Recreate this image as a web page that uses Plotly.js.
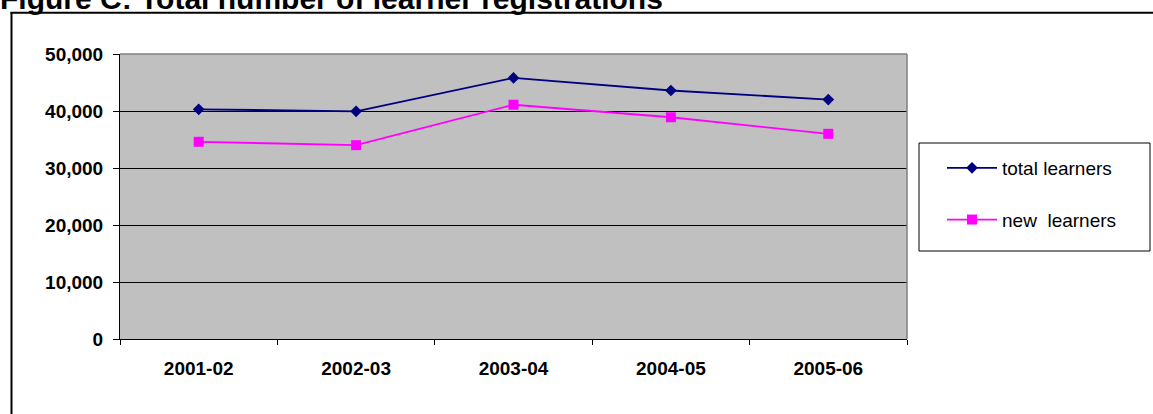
<!DOCTYPE html>
<html>
<head>
<meta charset="utf-8">
<script src="https://cdn.plot.ly/plotly-3.0.1.min.js"></script>
<style>html,body{margin:0;padding:0;background:#fff;}#chart{width:1153px;height:414px;}</style>
</head>
<body>
<div id="chart"></div>
<script>
const years = ["2001-02", "2002-03", "2003-04", "2004-05", "2005-06"];
const totalLearners = [40300, 39950, 45800, 43600, 42000];
const newLearners = [34600, 34000, 41100, 38900, 36000];
const yTicks = [0, 10000, 20000, 30000, 40000, 50000];
const yTickText = ["0", "10,000", "20,000", "30,000", "40,000", "50,000"];
const titleText = "Figure C: Total number of learner registrations";

const W = 1153, H = 414;
const L = 120, R = 246, T = 54, B = 75;
const pw = W - L - R, ph = H - T - B;
const px = v => (v - L) / pw;       // pixel x -> paper
const py = v => (H - B - v) / ph;   // pixel y -> paper

const FONT = "Liberation Sans, Arial, sans-serif";

const traces = [
  {x: years, y: totalLearners, name: "total learners", type: "scatter", mode: "lines+markers",
   line: {color: "#000080", width: 1.8}, marker: {symbol: "diamond", size: 9, color: "#000080"},
   legendgroup: "a"},
  {x: years, y: newLearners, name: "new  learners", type: "scatter", mode: "lines+markers",
   line: {color: "#FF00FF", width: 1.8}, marker: {symbol: "square", size: 10, color: "#FF00FF"},
   legendgroup: "b"}
];

const layout = {
  width: W, height: H,
  margin: {l: L, r: R, t: T, b: B, pad: 0},
  paper_bgcolor: "#ffffff",
  plot_bgcolor: "#c0c0c0",
  font: {family: FONT, color: "#000"},
  showlegend: true,
  legend: {x: px(942), y: py(149), xanchor: "left", yanchor: "top",
    bgcolor: "rgba(0,0,0,0)", borderwidth: 0,
    font: {family: FONT, size: 19, color: "#000"},
    itemwidth: 50, traceorder: "grouped", tracegroupgap: 24},
  xaxis: {type: "category", range: [-0.5, 4.5], showgrid: false, zeroline: false,
    showline: true, linecolor: "#000", linewidth: 1,
    ticks: "outside", ticklen: 5, tickcolor: "#000", tickson: "boundaries",
    tickfont: {family: FONT, size: 19, color: "#000", weight: "bold"},
    ticklabelstandoff: 12, fixedrange: true},
  yaxis: {range: [0, 50000], tickvals: yTicks, ticktext: yTickText,
    showgrid: true, gridcolor: "#000", gridwidth: 1, zeroline: false,
    showline: true, linecolor: "#000", linewidth: 1,
    ticks: "outside", ticklen: 6, tickcolor: "#000",
    tickfont: {family: FONT, size: 19, color: "#000", weight: "bold"},
    ticklabelstandoff: 6, fixedrange: true},
  annotations: [
    {text: "<b>" + titleText + "</b>", xref: "paper", yref: "paper",
     x: px(-1), y: py(-1.2), xanchor: "left", yanchor: "middle", showarrow: false,
     borderpad: 0, font: {family: FONT, size: 30, color: "#000"}}
  ],
  shapes: [
    {type: "line", xref: "paper", yref: "paper", x0: 0, x1: 1, y0: 1, y1: 1, line: {color: "#808080", width: 1.5}, layer: "above"},
    {type: "line", xref: "paper", yref: "paper", x0: 1, x1: 1, y0: 0, y1: 1, line: {color: "#808080", width: 1.5}, layer: "above"},
    {type: "line", xref: "paper", yref: "paper", x0: px(10.5), x1: px(1170), y0: py(12.8), y1: py(12.8), line: {color: "#000", width: 2}},
    {type: "line", xref: "paper", yref: "paper", x0: px(11.5), x1: px(11.5), y0: py(12), y1: py(430), line: {color: "#000", width: 2}},
    {type: "rect", xref: "paper", yref: "paper", x0: px(919), x1: px(1150), y0: py(143), y1: py(251), line: {color: "#000", width: 1}, fillcolor: "#fff", layer: "below"}
  ]
};

Plotly.newPlot("chart", traces, layout, {displayModeBar: false, staticPlot: true});
</script>
</body>
</html>
